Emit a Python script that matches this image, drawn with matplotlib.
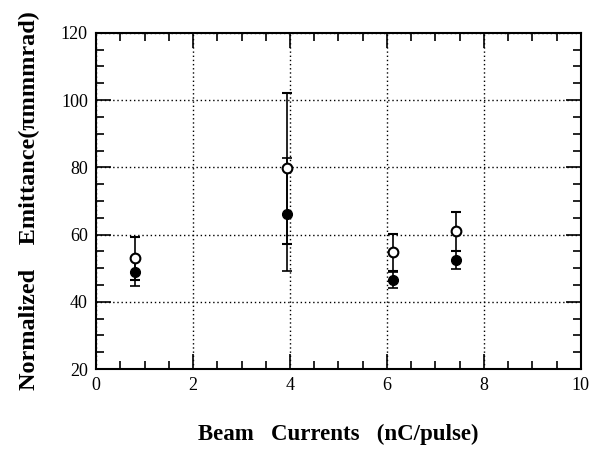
import matplotlib
matplotlib.use("Agg")
import matplotlib.pyplot as plt
from matplotlib.ticker import MultipleLocator

# Dados
corrente = [0.80, 3.94, 6.12, 7.42]
emit_aberto = [53.0, 79.7, 54.7, 61.0]
erro_aberto = [6.4, 22.5, 5.5, 5.8]
emit_cheio = [49.0, 66.0, 46.5, 52.5]
erro_cheio = [4.2, 16.8, 2.4, 2.7]

plt.rcParams["font.family"] = ["Liberation Serif", "DejaVu Serif"]

fig = plt.figure(figsize=(6.05, 4.5), dpi=100)
ax = fig.add_axes([0.159, 0.18, 0.801, 0.747])

ax.errorbar(corrente, emit_cheio, yerr=erro_cheio, fmt="o", color="black",
            ms=7, capsize=3.6, elinewidth=1.2, capthick=1.2, zorder=3)
ax.errorbar(corrente, emit_aberto, yerr=erro_aberto, fmt="o", color="black",
            mfc="white", mec="black", mew=1.5, ms=7, capsize=3.6,
            elinewidth=1.2, capthick=1.2, zorder=4)

ax.set_xlim(0, 10)
ax.set_ylim(20, 120)
ax.xaxis.set_major_locator(MultipleLocator(2))
ax.xaxis.set_minor_locator(MultipleLocator(0.5))
ax.yaxis.set_major_locator(MultipleLocator(20))
ax.yaxis.set_minor_locator(MultipleLocator(5))
ax.tick_params(which="both", direction="in", top=True, right=True,
               labelsize=13, width=1.2)
ax.tick_params(which="major", length=10.5, pad=6)
ax.tick_params(which="minor", length=5.5)
for s in ax.spines.values():
    s.set_linewidth(1.5)

ax.grid(True, which="major", linestyle=(0, (1, 2)), color="black", linewidth=1)

ax.set_xlabel("Beam   Currents   (nC/pulse)", fontsize=16.5, fontweight="bold", labelpad=21)
ax.set_ylabel("Normalized    Emittance(\u03c0mmmrad)", fontsize=17.5, fontweight="bold", labelpad=15)

fig.savefig("out.png", dpi=100)
